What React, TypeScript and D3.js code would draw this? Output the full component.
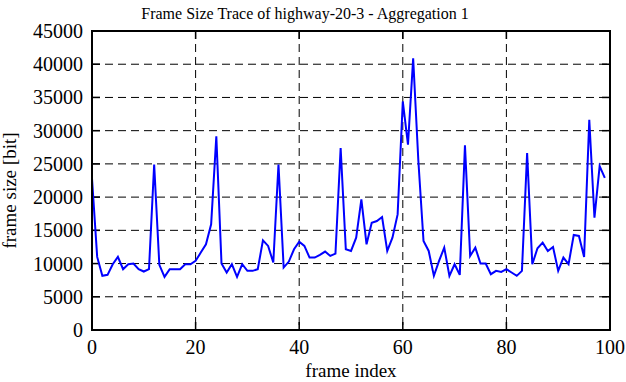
import React from "react";
import * as d3 from "d3";

const frameSizes: number[] = [
  22800, 11000, 8150, 8300, 9900, 11000, 9150, 9900, 10000, 9150,
  8800, 9150, 24900, 9800, 8000, 9150, 9150, 9150, 9900, 9900,
  10400, 11650, 12900, 15900, 29150, 10000, 8650, 9900, 8000, 9900,
  8900, 8900, 9150, 13500, 12650, 10150, 24900, 9400, 10300, 12150,
  13300, 12650, 10900, 10900, 11300, 11800, 11150, 11500, 27400, 12150,
  11900, 13900, 19650, 12900, 16150, 16400, 17000, 11900, 13900, 17400,
  34400, 27900, 40900, 25500, 13400, 11900, 8150, 10400, 12400, 8150,
  9900, 8300, 27800, 11150, 12400, 10000, 10000, 8400, 8900, 8750,
  9150, 8650, 8150, 8900, 26650, 9900, 12300, 13150, 11900, 12500,
  8900, 10900, 9900, 14300, 14150, 11000, 31650, 16900, 24650, 22900,
];
const xTicks: number[] = [0, 20, 40, 60, 80, 100];
const yTicks: number[] = [0, 5000, 10000, 15000, 20000, 25000, 30000, 35000, 40000, 45000];
const titleText = "Frame Size Trace of highway-20-3 - Aggregation 1";
const xLabel = "frame index";
const yLabel = "frame size [bit]";

export default function App() {
  const W = 626, H = 382;
  const left = 92, right = 610, top = 31, bottom = 330;
  const x = d3.scaleLinear().domain([0, 100]).range([left, right]);
  const y = d3.scaleLinear().domain([0, 45000]).range([bottom, top]);
  const line = d3.line<number>().x((_, i) => x(i)).y((d) => y(d));
  const font = "'Liberation Serif', 'Times New Roman', serif";
  const tl = 8;
  return (
    <svg width={W} height={H} style={{ position: "absolute", left: 0, top: 0, background: "#fff" }} fontFamily={font}>
      <rect x={0} y={0} width={W} height={H} fill="#fff" />
      {yTicks.slice(1, -1).map((t) => (
        <line key={"gy" + t} x1={left} x2={right} y1={y(t)} y2={y(t)} stroke="#000" strokeWidth={1} strokeDasharray="8,5" />
      ))}
      {xTicks.slice(1, -1).map((t) => (
        <line key={"gx" + t} y1={top} y2={bottom} x1={x(t)} x2={x(t)} stroke="#000" strokeWidth={1} strokeDasharray="8,5" />
      ))}
      {yTicks.map((t) => (
        <g key={"ty" + t}>
          <line x1={left} x2={left + tl} y1={y(t)} y2={y(t)} stroke="#000" strokeWidth={1.5} />
          <line x1={right} x2={right - tl} y1={y(t)} y2={y(t)} stroke="#000" strokeWidth={1.5} />
          <text x={left - 9} y={y(t)} dy="0.35em" textAnchor="end" fontSize={20}>{t}</text>
        </g>
      ))}
      {xTicks.map((t) => (
        <g key={"tx" + t}>
          <line x1={x(t)} x2={x(t)} y1={bottom} y2={bottom - tl} stroke="#000" strokeWidth={1.5} />
          <line x1={x(t)} x2={x(t)} y1={top} y2={top + tl} stroke="#000" strokeWidth={1.5} />
          <text x={x(t)} y={bottom + 24} textAnchor="middle" fontSize={20}>{t}</text>
        </g>
      ))}
      <path d={line(frameSizes) || ""} fill="none" stroke="#0000ff" strokeWidth={2} strokeLinejoin="miter" />
      <rect x={left} y={top} width={right - left} height={bottom - top} fill="none" stroke="#000" strokeWidth={2} />
      <text x={305} y={19} textAnchor="middle" fontSize={16}>{titleText}</text>
      <text x={(left + right) / 2} y={377} textAnchor="middle" fontSize={19}>{xLabel}</text>
      <text transform={`translate(16,${(top + bottom) / 2 + 10}) rotate(-90)`} textAnchor="middle" fontSize={19}>{yLabel}</text>
    </svg>
  );
}
